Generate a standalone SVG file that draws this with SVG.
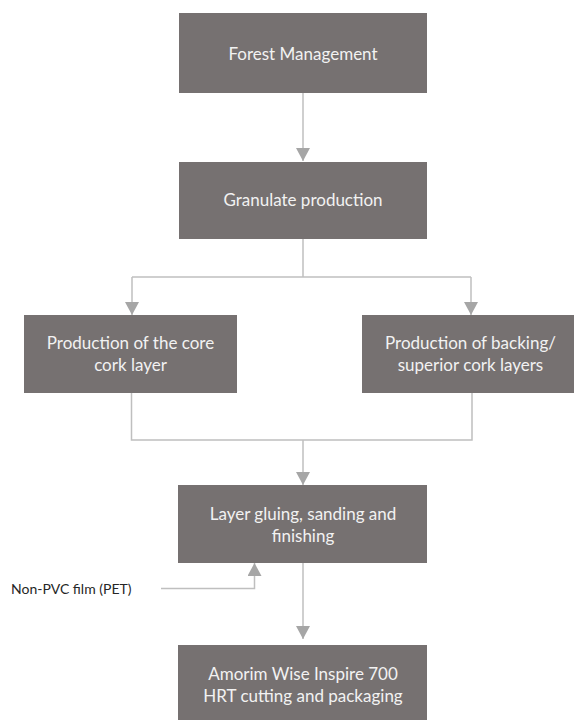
<svg xmlns="http://www.w3.org/2000/svg" width="574" height="720" viewBox="0 0 574 720">
  <style>
    .box { fill: #767171; }
    .lbl { font-family: Lato, "Liberation Sans", sans-serif; font-size: 17px; fill: #F2F2F2; text-anchor: middle; }
    .side { font-family: Lato, "Liberation Sans", sans-serif; font-size: 14px; fill: #262626; }
    .conn { fill: none; stroke: #BFBFBF; stroke-width: 1.5; }
  </style>
  <defs>
    <marker id="arrow" viewBox="0 0 13 14" refX="13" refY="7" markerWidth="13" markerHeight="14" markerUnits="userSpaceOnUse" orient="auto">
      <path d="M0,0 L13,7 L0,14 z" fill="#A6A6A6"/>
    </marker>
  </defs>
  <rect width="574" height="720" fill="#FFFFFF"/>

  <g id="connectors">
    <path class="conn" d="M303,93 V161" marker-end="url(#arrow)"/>
    <path class="conn" d="M303,239 V277"/>
    <path class="conn" d="M132,277 H471"/>
    <path class="conn" d="M132,277 V315" marker-end="url(#arrow)"/>
    <path class="conn" d="M471,277 V315" marker-end="url(#arrow)"/>
    <path class="conn" d="M131.5,393 V440 H472 V393"/>
    <path class="conn" d="M303,440 V485" marker-end="url(#arrow)"/>
    <path class="conn" d="M161,588.5 H254.5 V563" marker-end="url(#arrow)"/>
    <path class="conn" d="M303,563 V639" marker-end="url(#arrow)"/>
  </g>

  <g id="forest-management">
    <rect class="box" x="179" y="13" width="248" height="80"/>
    <text class="lbl" x="303" y="60">Forest Management</text>
  </g>
  <g id="granulate-production">
    <rect class="box" x="179" y="162" width="248" height="77"/>
    <text class="lbl" x="303" y="206">Granulate production</text>
  </g>
  <g id="core-cork-layer">
    <rect class="box" x="24" y="315" width="213" height="78"/>
    <text class="lbl" x="130.5" y="349">Production of the core</text>
    <text class="lbl" x="130.5" y="371">cork layer</text>
  </g>
  <g id="backing-superior-layers">
    <rect class="box" x="362" y="315" width="217" height="78"/>
    <text class="lbl" x="470.5" y="349">Production of backing/</text>
    <text class="lbl" x="470.5" y="371">superior cork layers</text>
  </g>
  <g id="layer-gluing">
    <rect class="box" x="178" y="485" width="249" height="78"/>
    <text class="lbl" x="303" y="520">Layer gluing, sanding and</text>
    <text class="lbl" x="303" y="542">finishing</text>
  </g>
  <g id="non-pvc-film">
    <text class="side" x="11" y="594">Non-PVC film (PET)</text>
  </g>
  <g id="cutting-packaging">
    <rect class="box" x="178" y="645" width="249" height="80"/>
    <text class="lbl" x="303" y="680">Amorim Wise Inspire 700</text>
    <text class="lbl" x="303" y="702">HRT cutting and packaging</text>
  </g>
</svg>
